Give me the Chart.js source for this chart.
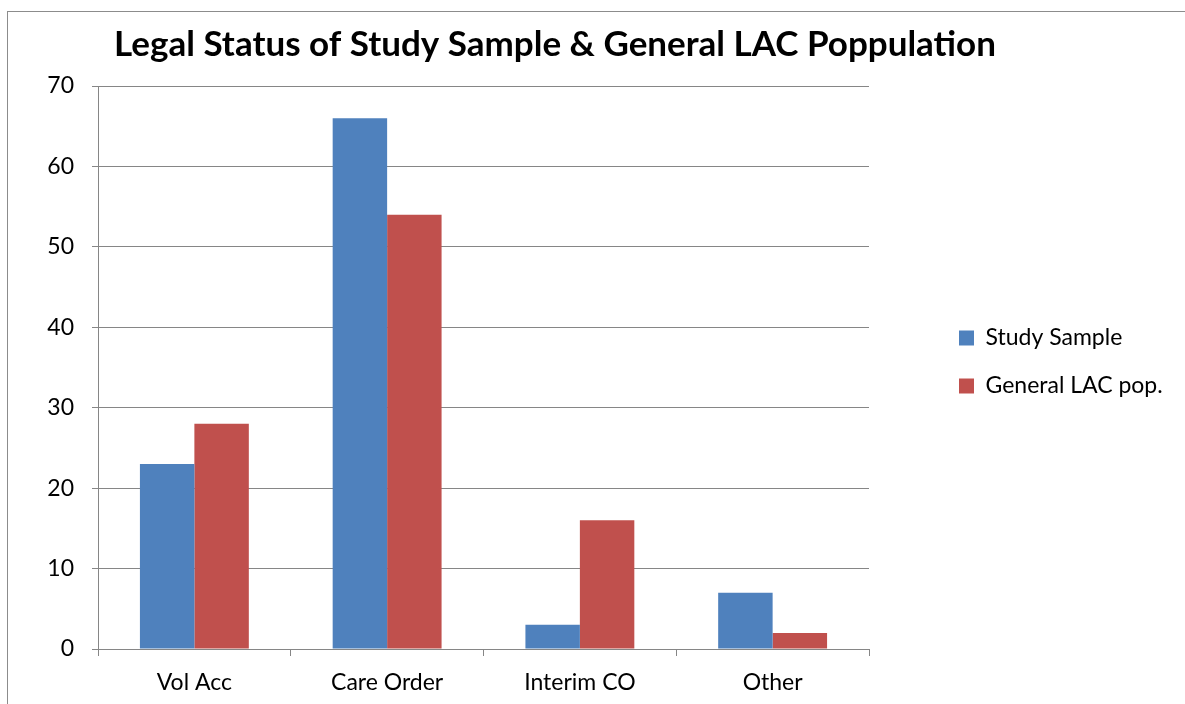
<!DOCTYPE html>
<html>
<head>
<meta charset="utf-8">
<script src="https://cdn.jsdelivr.net/npm/chart.js@4/dist/chart.umd.min.js"></script>
<style>
  html, body { margin: 0; padding: 0; background: #ffffff; }
  #wrap { width: 1185px; height: 704px; }
</style>
</head>
<body>
<div id="wrap"><canvas id="c" width="1185" height="704"></canvas></div>
<script>
const chartTitle = 'Legal Status of Study Sample & General LAC Poppulation';
const categories = ['Vol Acc', 'Care Order', 'Interim CO', 'Other'];
const studySample = [23, 66, 3, 7];
const generalLAC = [28, 54, 16, 2];
const seriesNames = ['Study Sample', 'General LAC pop.'];
const yTicks = [0, 10, 20, 30, 40, 50, 60, 70];

const FONT = 'Lato, "Open Sans", sans-serif';
const GRID = '#868686';

const framePlugin = {
  id: 'frame',
  beforeDraw(chart) {
    const ctx = chart.ctx;
    ctx.save();
    ctx.fillStyle = '#ffffff';
    ctx.fillRect(0, 0, chart.width, chart.height);
    ctx.strokeStyle = '#8c8c8c';
    ctx.lineWidth = 1;
    ctx.strokeRect(7.5, 11.5, 2000, 2000);
    ctx.restore();
  }
};

const placePlugin = {
  id: 'place',
  afterLayout(chart) {
    const lg = chart.legend;
    if (lg) {
      const pad = lg.options.labels.padding;
      lg.left = 959 - pad;
      lg.right = 1185;
      lg.width = lg.right - lg.left;
      lg.top = 0;
      lg.bottom = 724;
      lg.height = 724;
    }
    const tb = chart.titleBlock;
    if (tb) {
      tb.left = 555 - 560;
      tb.right = 555 + 560;
      tb.width = 1120;
    }
  }
};

new Chart(document.getElementById('c'), {
  type: 'bar',
  data: {
    labels: categories,
    datasets: [
      { label: seriesNames[0], data: studySample, backgroundColor: '#4F81BD', borderWidth: 0,
        categoryPercentage: 0.565, barPercentage: 1.0 },
      { label: seriesNames[1], data: generalLAC, backgroundColor: '#C0504D', borderWidth: 0,
        categoryPercentage: 0.565, barPercentage: 1.0 }
    ]
  },
  options: {
    responsive: false,
    devicePixelRatio: 1,
    animation: false,
    layout: { padding: { left: 0, right: 216, top: 0, bottom: 0 } },
    plugins: {
      title: {
        display: true,
        text: chartTitle,
        color: '#000000',
        font: { family: FONT, size: 35, weight: 'bold', lineHeight: 1.2 },
        padding: { top: 24, bottom: 86 - 24 - 35 * 1.2 }
      },
      legend: {
        display: true,
        position: 'right',
        align: 'center',
        maxWidth: 100,
        labels: {
          boxWidth: 15,
          boxHeight: 15,
          padding: 25,
          color: '#000000',
          font: { family: FONT, size: 23 }
        }
      },
      tooltip: { enabled: false }
    },
    scales: {
      x: {
        offset: true,
        grid: { display: true, offset: true, drawOnChartArea: false, drawTicks: true, tickLength: 7, color: GRID },
        border: { display: true, color: GRID, width: 1 },
        ticks: { color: '#000000', font: { family: FONT, size: 23 }, padding: 13, maxRotation: 0 },
        afterFit(scale) { scale.height = 55; }
      },
      y: {
        min: 0,
        max: 70,
        afterBuildTicks(scale) { scale.ticks = yTicks.map(v => ({ value: v })); },
        grid: { display: true, drawOnChartArea: true, drawTicks: true, tickLength: 6, color: GRID },
        border: { display: true, color: GRID, width: 1 },
        ticks: { color: '#000000', font: { family: FONT, size: 23 }, padding: 18 },
        afterFit(scale) { scale.width = 98; }
      }
    }
  },
  plugins: [framePlugin, placePlugin]
});
</script>
</body>
</html>
